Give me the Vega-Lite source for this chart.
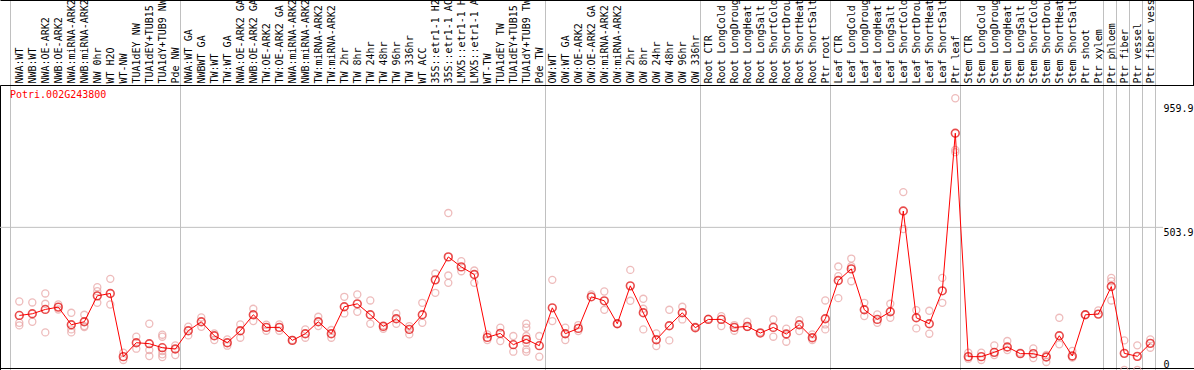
{
 "$schema": "https://vega.github.io/schema/vega-lite/v6.json",
 "width": 1194,
 "height": 285,
 "autosize": {"type": "none"},
 "padding": {"left": 0, "top": 85, "right": 0, "bottom": 0},
 "background": "white",
 "config": {"view": {"stroke": null}, "font": "DejaVu Sans Mono"},
 "title": {"text": "Potri.002G243800", "anchor": "start", "frame": "group", "orient": "top", "offset": 0, "dx": 10, "dy": 101, "color": "red", "font": "DejaVu Sans Mono", "fontSize": 10, "fontWeight": "normal"},
 "datasets": {
  "gridlines": [{"fpkm": 503.9}],
  "means": [
   {"i":0,"fpkm":192.7},{"i":1,"fpkm":198.6},{"i":2,"fpkm":213.9},{"i":3,"fpkm":222.1},{"i":4,"fpkm":159.9},{"i":5,"fpkm":170.4},{"i":6,"fpkm":262.0},{"i":7,"fpkm":270.3},{"i":8,"fpkm":47.1},{"i":9,"fpkm":96.4},
   {"i":10,"fpkm":92.9},{"i":11,"fpkm":78.8},{"i":12,"fpkm":74.1},{"i":13,"fpkm":138.7},{"i":14,"fpkm":170.4},{"i":15,"fpkm":121.1},{"i":16,"fpkm":96.4},{"i":17,"fpkm":138.7},{"i":18,"fpkm":195.1},{"i":19,"fpkm":150.5},
   {"i":20,"fpkm":150.5},{"i":21,"fpkm":104.6},{"i":22,"fpkm":128.1},{"i":23,"fpkm":170.4},{"i":24,"fpkm":128.1},{"i":25,"fpkm":223.3},{"i":26,"fpkm":233.8},{"i":27,"fpkm":195.1},{"i":28,"fpkm":154.0},{"i":29,"fpkm":181.0},
   {"i":30,"fpkm":143.4},{"i":31,"fpkm":195.1},{"i":32,"fpkm":318.4},{"i":33,"fpkm":399.4},{"i":34,"fpkm":364.2},{"i":35,"fpkm":337.2},{"i":36,"fpkm":115.2},{"i":37,"fpkm":129.3},{"i":38,"fpkm":89.4},{"i":39,"fpkm":108.2},
   {"i":40,"fpkm":85.9},{"i":41,"fpkm":219.7},{"i":42,"fpkm":128.1},{"i":43,"fpkm":146.9},{"i":44,"fpkm":258.5},{"i":45,"fpkm":244.4},{"i":46,"fpkm":163.4},{"i":47,"fpkm":297.3},{"i":48,"fpkm":202.1},{"i":49,"fpkm":107.0},
   {"i":50,"fpkm":156.3},{"i":51,"fpkm":202.1},{"i":52,"fpkm":149.3},{"i":53,"fpkm":178.6},{"i":54,"fpkm":178.6},{"i":55,"fpkm":150.5},{"i":56,"fpkm":154.0},{"i":57,"fpkm":130.5},{"i":58,"fpkm":150.5},{"i":59,"fpkm":127.0},
   {"i":60,"fpkm":159.9},{"i":61,"fpkm":114.0},{"i":62,"fpkm":181.0},{"i":63,"fpkm":316.1},{"i":64,"fpkm":357.2},{"i":65,"fpkm":212.7},{"i":66,"fpkm":178.6},{"i":67,"fpkm":205.7},{"i":68,"fpkm":561.5},{"i":69,"fpkm":184.5},
   {"i":70,"fpkm":163.4},{"i":71,"fpkm":279.7},{"i":72,"fpkm":836.4},{"i":73,"fpkm":47.1},{"i":74,"fpkm":47.1},{"i":75,"fpkm":62.4},{"i":76,"fpkm":81.2},{"i":77,"fpkm":57.7},{"i":78,"fpkm":57.7},{"i":79,"fpkm":45.9},
   {"i":80,"fpkm":121.1},{"i":81,"fpkm":49.4},{"i":82,"fpkm":195.1},{"i":83,"fpkm":197.4},{"i":84,"fpkm":294.9},{"i":85,"fpkm":58.8},{"i":86,"fpkm":48.3},{"i":87,"fpkm":94.1}
  ],
  "reps": [
   {"i":0,"fpkm":242.1},{"i":0,"fpkm":166.9},{"i":0,"fpkm":157.5},
   {"i":1,"fpkm":238.5},{"i":1,"fpkm":170.4},
   {"i":2,"fpkm":270.3},{"i":2,"fpkm":233.8},{"i":2,"fpkm":132.8},
   {"i":3,"fpkm":231.4},{"i":3,"fpkm":213.9},
   {"i":4,"fpkm":202.1},{"i":4,"fpkm":143.4},{"i":4,"fpkm":132.8},
   {"i":5,"fpkm":195.1},{"i":5,"fpkm":155.2},{"i":5,"fpkm":151.7},
   {"i":6,"fpkm":292.4},{"i":6,"fpkm":278.4},{"i":6,"fpkm":237.3},
   {"i":7,"fpkm":321.9},{"i":7,"fpkm":231.4},
   {"i":8,"fpkm":61.2},{"i":8,"fpkm":35.4},
   {"i":9,"fpkm":117.6},{"i":9,"fpkm":75.3},
   {"i":10,"fpkm":163.4},{"i":10,"fpkm":70.6},{"i":10,"fpkm":49.4},
   {"i":11,"fpkm":124.6},{"i":11,"fpkm":117.6},{"i":11,"fpkm":67.1},{"i":11,"fpkm":55.3},{"i":11,"fpkm":45.9},
   {"i":12,"fpkm":87.1},{"i":12,"fpkm":53.0},
   {"i":13,"fpkm":152.8},{"i":13,"fpkm":122.3},
   {"i":14,"fpkm":185.7},{"i":14,"fpkm":152.8},
   {"i":15,"fpkm":129.3},{"i":15,"fpkm":105.8},
   {"i":16,"fpkm":108.2},{"i":16,"fpkm":85.9},
   {"i":17,"fpkm":161.0},{"i":17,"fpkm":114.0},
   {"i":18,"fpkm":216.2},{"i":18,"fpkm":172.8},
   {"i":19,"fpkm":159.9},{"i":19,"fpkm":138.7},
   {"i":20,"fpkm":161.0},{"i":20,"fpkm":138.7},
   {"i":21,"fpkm":105.8},
   {"i":22,"fpkm":143.4},{"i":22,"fpkm":114.0},
   {"i":23,"fpkm":188.0},{"i":23,"fpkm":155.2},
   {"i":24,"fpkm":141.1},{"i":24,"fpkm":114.0},
   {"i":25,"fpkm":258.5},{"i":25,"fpkm":199.8},
   {"i":26,"fpkm":266.7},{"i":26,"fpkm":205.7},
   {"i":27,"fpkm":245.6},{"i":27,"fpkm":163.4},
   {"i":28,"fpkm":157.5},{"i":28,"fpkm":145.8},
   {"i":29,"fpkm":199.8},{"i":29,"fpkm":163.4},
   {"i":30,"fpkm":155.2},{"i":30,"fpkm":125.8},
   {"i":31,"fpkm":237.3},{"i":31,"fpkm":166.9},
   {"i":32,"fpkm":340.7},{"i":32,"fpkm":272.6},
   {"i":33,"fpkm":554.5},{"i":33,"fpkm":333.7},{"i":33,"fpkm":307.8},
   {"i":34,"fpkm":384.2},{"i":34,"fpkm":348.9},
   {"i":35,"fpkm":351.3},{"i":35,"fpkm":307.8},
   {"i":36,"fpkm":125.8},{"i":36,"fpkm":105.8},
   {"i":37,"fpkm":149.3},{"i":37,"fpkm":102.3},
   {"i":38,"fpkm":119.9},{"i":38,"fpkm":64.7},
   {"i":39,"fpkm":163.4},{"i":39,"fpkm":149.3},{"i":39,"fpkm":119.9},{"i":39,"fpkm":96.4},{"i":39,"fpkm":72.9},{"i":39,"fpkm":64.7},
   {"i":40,"fpkm":119.9},{"i":40,"fpkm":47.1},
   {"i":41,"fpkm":318.4},{"i":41,"fpkm":172.8},
   {"i":42,"fpkm":149.3},{"i":42,"fpkm":105.8},
   {"i":43,"fpkm":158.7},{"i":43,"fpkm":137.5},
   {"i":44,"fpkm":266.7},
   {"i":45,"fpkm":277.3},{"i":45,"fpkm":212.7},
   {"i":46,"fpkm":163.4},
   {"i":47,"fpkm":353.6},{"i":47,"fpkm":244.4},
   {"i":48,"fpkm":251.5},{"i":48,"fpkm":216.2},{"i":48,"fpkm":143.4},
   {"i":49,"fpkm":129.3},{"i":49,"fpkm":84.7},
   {"i":50,"fpkm":212.7},{"i":50,"fpkm":104.6},
   {"i":51,"fpkm":223.3},{"i":51,"fpkm":178.6},
   {"i":52,"fpkm":152.8},
   {"i":53,"fpkm":181.0},
   {"i":54,"fpkm":190.4},{"i":54,"fpkm":155.2},
   {"i":55,"fpkm":158.7},{"i":55,"fpkm":138.7},
   {"i":56,"fpkm":170.4},{"i":56,"fpkm":151.7},
   {"i":57,"fpkm":134.0},
   {"i":58,"fpkm":178.6},{"i":58,"fpkm":117.6},
   {"i":59,"fpkm":145.8},{"i":59,"fpkm":100.0},
   {"i":60,"fpkm":176.3},{"i":60,"fpkm":137.5},
   {"i":61,"fpkm":125.8},{"i":61,"fpkm":105.8},
   {"i":62,"fpkm":245.6},{"i":62,"fpkm":161.0},{"i":62,"fpkm":143.4},
   {"i":63,"fpkm":365.4},{"i":63,"fpkm":331.3},{"i":63,"fpkm":253.8},
   {"i":64,"fpkm":393.6},{"i":64,"fpkm":366.6},{"i":64,"fpkm":313.7},
   {"i":65,"fpkm":237.3},{"i":65,"fpkm":190.4},
   {"i":66,"fpkm":196.3},{"i":66,"fpkm":166.9},
   {"i":67,"fpkm":233.8},{"i":67,"fpkm":184.5},
   {"i":68,"fpkm":628.4},{"i":68,"fpkm":498.0},
   {"i":69,"fpkm":211.5},{"i":69,"fpkm":146.9},
   {"i":70,"fpkm":209.1},{"i":70,"fpkm":128.1},
   {"i":71,"fpkm":325.4},{"i":71,"fpkm":237.3},
   {"i":72,"fpkm":959.9},{"i":72,"fpkm":777.6},{"i":72,"fpkm":769.4},
   {"i":73,"fpkm":61.2},{"i":73,"fpkm":40.0},
   {"i":74,"fpkm":61.2},{"i":74,"fpkm":35.4},
   {"i":75,"fpkm":87.1},{"i":75,"fpkm":53.0},
   {"i":76,"fpkm":102.3},{"i":76,"fpkm":70.6},
   {"i":77,"fpkm":61.2},
   {"i":78,"fpkm":76.5},{"i":78,"fpkm":42.4},
   {"i":79,"fpkm":53.0},{"i":79,"fpkm":28.3},
   {"i":80,"fpkm":184.5},{"i":80,"fpkm":90.6},
   {"i":81,"fpkm":67.1},{"i":81,"fpkm":43.6},
   {"i":82,"fpkm":195.1},
   {"i":83,"fpkm":210.3},
   {"i":84,"fpkm":325.4},{"i":84,"fpkm":313.7},{"i":84,"fpkm":245.6},
   {"i":85,"fpkm":104.6},{"i":85,"fpkm":0},
   {"i":86,"fpkm":87.1},{"i":86,"fpkm":0},
   {"i":87,"fpkm":108.2},{"i":87,"fpkm":78.8}
  ]
 },
 "resolve": {"axis": {"x": "independent", "y": "independent"}},
 "layer": [
  {
   "data": {"name": "gridlines"},
   "mark": {"type": "rule", "color": "#c0c0c0", "strokeWidth": 1},
   "encoding": {
    "y": {"field": "fpkm", "type": "quantitative", "scale": {"domain": [0, 1006.7], "nice": false, "zero": false}, "axis": null},
    "x": {"datum": -1.4846, "type": "quantitative", "scale": {"domain": [-1.4846, 90.3615], "nice": false, "zero": false}, "axis": null},
    "x2": {"datum": 87.977}
   }
  },
  {
   "data": {"name": "reps"},
   "mark": {"type": "point", "shape": "circle", "filled": false, "stroke": "#e8a0a0", "strokeWidth": 1.3, "size": 50, "clip": true},
   "encoding": {
    "x": {"field": "i", "type": "quantitative", "scale": {"domain": [-1.4846, 90.3615], "nice": false, "zero": false},
     "axis": {
      "orient": "top", "title": null,
      "values": [0,1,2,3,4,5,6,7,8,9,10,11,12,13,14,15,16,17,18,19,20,21,22,23,24,25,26,27,28,29,30,31,32,33,34,35,36,37,38,39,40,41,42,43,44,45,46,47,48,49,50,51,52,53,54,55,56,57,58,59,60,61,62,63,64,65,66,67,68,69,70,71,72,73,74,75,76,77,78,79,80,81,82,83,84,85,86,87,-0.7154,12.3615,40.4077,52.3615,62.3615,72.3615,83.3615,84.3615,85.3615,86.3615,87.3615,90.2846],
      "labelExpr": "datum.value == floor(datum.value) ? ['NWA:WT','NWB:WT','NWA:OE-ARK2','NWB:OE-ARK2','NWA:miRNA-ARK2','NWB:miRNA-ARK2','NW 0hr','WT H2O','WT-NW','TUA1dEY NW','TUA1dEY+TUB15','TUA1dY+TUB9 NW','Pde NW','NWA:WT GA','NWBWT GA','TW:WT','TW:WT GA','NWA:OE-ARK2 GA','NWB:OE-ARK2 GA','TW:OE-ARK2','TW:OE-ARK2 GA','NWA:miRNA-ARK2','NWB:miRNA-ARK2','TW:miRNA-ARK2','TW:miRNA-ARK2','TW 2hr','TW 8hr','TW 24hr','TW 48hr','TW 96hr','TW 336hr','WT ACC','35S::etr1-1 H2','35S::etr1-1 AC','LMX5::etr1-1 H','LMX5::etr1-1 A','WT-TW','TUA1dEY TW','TUA1dEY+TUB15','TUA1dY+TUB9 TW','Pde TW','OW:WT','OW:WT GA','OW:OE-ARK2','OW:OE-ARK2 GA','OW:miRNA-ARK2','OW:miRNA-ARK2','OW 2hr','OW 8hr','OW 24hr','OW 48hr','OW 96hr','OW 336hr','Root CTR','Root LongCold','Root LongDroug','Root LongHeat','Root LongSalt','Root ShortCold','Root ShortDrou','Root ShortHeat','Root ShortSalt','Ptr root','Leaf CTR','Leaf LongCold','Leaf LongDroug','Leaf LongHeat','Leaf LongSalt','Leaf ShortCold','Leaf ShortDrou','Leaf ShortHeat','Leaf ShortSalt','Ptr leaf','Stem CTR','Stem LongCold','Stem LongDroug','Stem LongHeat','Stem LongSalt','Stem ShortCold','Stem ShortDrou','Stem ShortHeat','Stem ShortSalt','Ptr shoot','Ptr xylem','Ptr phloem','Ptr fiber','Ptr vessel','Ptr fiber vess'][datum.value] : ''",
      "labelAngle": 270, "labelAlign": "left", "labelBaseline": "middle", "labelPadding": -83,
      "labelFont": "DejaVu Sans Mono", "labelFontSize": 10, "labelColor": "black",
      "labelOverlap": false, "labelBound": false, "labelFlush": false, "labelLimit": 0,
      "ticks": true, "tickSize": 85, "tickWidth": 1,
      "tickColor": {"condition": {"test": "datum.value > 90", "value": "black"}, "value": "#c0c0c0"},
      "tickOpacity": {"condition": {"test": "datum.value != floor(datum.value)", "value": 1}, "value": 0},
      "grid": true, "gridColor": "#c0c0c0", "gridWidth": 1,
      "gridOpacity": {"condition": {"test": "datum.value != floor(datum.value) && datum.value < 90", "value": 1}, "value": 0},
      "domain": true, "domainColor": "black", "domainWidth": 1
     }
    },
    "y": {"field": "fpkm", "type": "quantitative", "scale": {"domain": [0, 1006.7], "nice": false, "zero": false},
     "axis": {"orient": "left", "title": null, "domain": true, "domainColor": "black", "ticks": false, "labels": false, "grid": false}
    }
   }
  },
  {
   "data": {"name": "means"},
   "mark": {"type": "line", "color": "#ff0000", "strokeWidth": 1, "clip": true},
   "encoding": {
    "x": {"field": "i", "type": "quantitative", "scale": {"domain": [-1.4846, 90.3615], "nice": false, "zero": false},
     "axis": {"orient": "bottom", "offset": -2, "title": null, "domain": true, "domainColor": "black", "ticks": false, "labels": false, "grid": false}
    },
    "y": {"field": "fpkm", "type": "quantitative", "scale": {"domain": [0, 1006.7], "nice": false, "zero": false},
     "axis": {"orient": "right", "offset": -31, "title": null, "values": [0, 503.9, 959.9],
      "labelExpr": "'' + datum.value",
      "domain": false, "ticks": false, "grid": false, "labelPadding": 0,
      "labelAlign": "left", "labelBaseline": "top", "labelFont": "DejaVu Sans Mono", "labelFontSize": 10, "labelColor": "black",
      "labelOffset": {"condition": [{"test": "datum.value == 0", "value": -11}, {"test": "datum.value > 900", "value": 5}], "value": 0},
      "labelOverlap": false, "labelBound": false, "labelFlush": false
     }
    }
   }
  },
  {
   "data": {"name": "means"},
   "mark": {"type": "point", "shape": "circle", "filled": false, "stroke": "#e00000", "strokeWidth": 1.6, "size": 60, "clip": true},
   "encoding": {
    "x": {"field": "i", "type": "quantitative", "scale": {"domain": [-1.4846, 90.3615], "nice": false, "zero": false},
     "axis": {"orient": "top", "offset": 85, "title": null, "domain": true, "domainColor": "black", "ticks": false, "labels": false, "grid": false}
    },
    "y": {"field": "fpkm", "type": "quantitative", "scale": {"domain": [0, 1006.7], "nice": false, "zero": false}, "axis": null}
   }
  }
 ]
}
